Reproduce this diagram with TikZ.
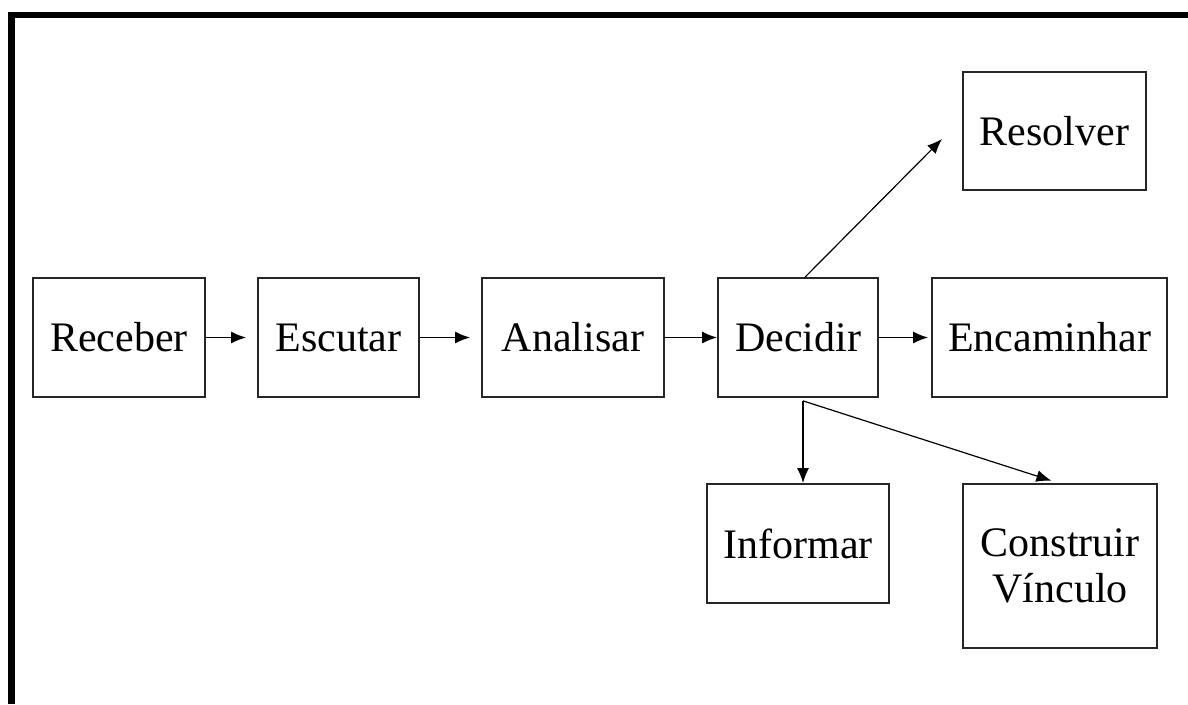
\documentclass[tikz,border=0pt]{standalone}
\usepackage{fontspec}
\setmainfont{Liberation Serif}
\usetikzlibrary{arrows.meta}
\begin{document}
\begin{tikzpicture}[x=1pt,y=-1pt,
  box/.style={draw=black!85,line width=1.7pt,inner sep=0pt,font=\fontsize{42}{46}\selectfont,align=center},
  arr/.style={line width=1.6pt,-{Latex[length=15pt,width=12pt]}},
  thin arr/.style={line width=1.2pt,-{Latex[length=15pt,width=12pt]}}]
\useasboundingbox (0,0) rectangle (1188,704);
\fill[white] (0,0) rectangle (1188,704);
\draw[line width=6.5pt] (11.5,704) -- (11.5,15) -- (1188,15);
\node[box,minimum width=172pt,minimum height=119pt] (rec) at (119,337.5) {Receber};
\node[box,minimum width=161pt,minimum height=119pt] (esc) at (338.5,337.5) {Escutar};
\node[box,minimum width=182pt,minimum height=119pt] (ana) at (573,337.5) {Analisar};
\node[box,minimum width=160pt,minimum height=119pt] (dec) at (798,337.5) {Decidir};
\node[box,minimum width=235pt,minimum height=119pt] (enc) at (1049.5,337.5) {Encaminhar};
\node[box,minimum width=183pt,minimum height=118pt] (res) at (1054.5,131) {Resolver};
\node[box,minimum width=182pt,minimum height=119pt] (inf) at (798,543.5) {Informar};
\node[box,minimum width=194pt,minimum height=164pt] (con) at (1060,566) {Construir\\V\'inculo};
\coordinate (rtip) at (942,139);
\draw[arr,shorten >=11pt] (rec.east) -- (esc.west);
\draw[arr,shorten >=11pt] (esc.east) -- (ana.west);
\draw[arr] (ana.east) -- (dec.west);
\draw[arr,shorten >=3pt] (dec.east) -- (enc.west);
\draw[thin arr] ([xshift=7pt]dec.north) -- (rtip);
\draw[arr] ([xshift=5pt,yshift=-3pt]dec.south) -- ([xshift=5pt]inf.north);
\draw[thin arr,shorten >=8pt] ([xshift=5pt,yshift=-3pt]dec.south) -- ([xshift=-1pt]con.north);
\end{tikzpicture}
\end{document}
